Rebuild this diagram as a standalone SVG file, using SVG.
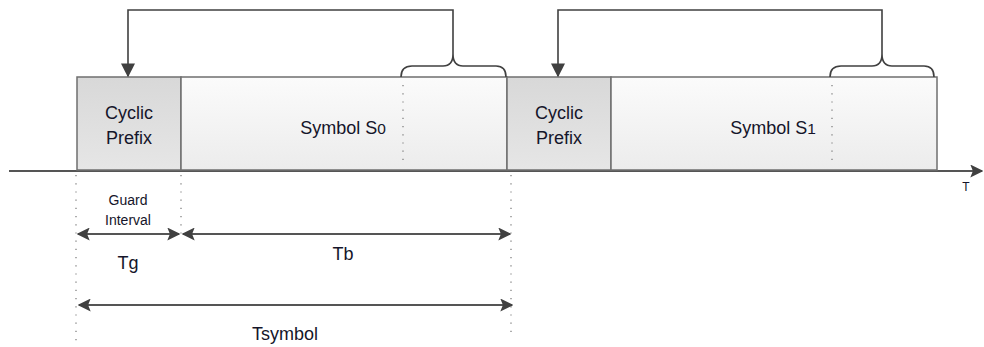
<svg xmlns="http://www.w3.org/2000/svg" width="984" height="347" viewBox="0 0 984 347">
  <defs>
    <linearGradient id="cpFill" x1="0" y1="0" x2="0" y2="1">
      <stop offset="0" stop-color="#d8d8d8"/>
      <stop offset="1" stop-color="#e6e6e6"/>
    </linearGradient>
    <linearGradient id="symFill" x1="0" y1="0" x2="0" y2="1">
      <stop offset="0" stop-color="#fbfbfb"/>
      <stop offset="1" stop-color="#ececec"/>
    </linearGradient>
    <marker id="head" viewBox="0 0 10 10" refX="9" refY="5" markerWidth="13" markerHeight="13" markerUnits="userSpaceOnUse" orient="auto-start-reverse">
      <path d="M0,0 L10,5 L0,10 L2,5 Z" fill="#404040"/>
    </marker>
    <marker id="headDown" viewBox="0 0 10 10" refX="9" refY="5" markerWidth="14" markerHeight="14" markerUnits="userSpaceOnUse" orient="auto">
      <path d="M0,0 L10,5 L0,10 Z" fill="#404040"/>
    </marker>
  </defs>
  <style>
    .box { stroke: #6f6f6f; stroke-width: 1.5; }
    .lbl { font-family: "Liberation Sans", Arial, sans-serif; fill: #15152a; text-anchor: middle; }
    .big { font-size: 18px; }
    .small { font-size: 14px; }
    .dot { stroke: #777; stroke-width: 1.2; stroke-dasharray: 1.2 7; fill: none; }
    .wire { stroke: #404040; stroke-width: 1.6; fill: none; }
    .dim { stroke: #555; stroke-width: 2; fill: none; }
  </style>

  <!-- time axis -->
  <line x1="9" y1="171" x2="982" y2="171" stroke="#555" stroke-width="2" marker-end="url(#head)"/>
  <text class="lbl" x="966" y="191" font-size="12">T</text>

  <!-- blocks -->
  <g id="cp0">
    <rect class="box" x="77" y="77" width="104" height="93" fill="url(#cpFill)"/>
    <text class="lbl big" x="129" y="119">Cyclic</text>
    <text class="lbl big" x="129" y="144">Prefix</text>
  </g>
  <g id="sym0">
    <rect class="box" x="181" y="77" width="326" height="93" fill="url(#symFill)"/>
    <text class="lbl big" x="343" y="134">Symbol S<tspan font-size="15.5">0</tspan></text>
    <line class="dot" x1="403" y1="85" x2="403" y2="166"/>
  </g>
  <g id="cp1">
    <rect class="box" x="507" y="77" width="104" height="93" fill="url(#cpFill)"/>
    <text class="lbl big" x="559" y="119">Cyclic</text>
    <text class="lbl big" x="559" y="144">Prefix</text>
  </g>
  <g id="sym1">
    <rect class="box" x="611" y="77" width="326" height="93" fill="url(#symFill)"/>
    <text class="lbl big" x="773" y="134">Symbol S<tspan font-size="15.5">1</tspan></text>
    <line class="dot" x1="832" y1="85" x2="832" y2="166"/>
  </g>

  <!-- copy loops: tail of each symbol fed back to its prefix -->
  <g id="connectors">
    <path class="wire" d="M401,77 Q401,66 412,66 L443,66 Q453,66 453,54 Q453,66 463,66 L496,66 Q506,66 506,77"/>
    <path class="wire" d="M453,54 L453,10 L128,10 L128,76" marker-end="url(#headDown)"/>
    <path class="wire" d="M830,77 Q830,66 841,66 L872,66 Q882,66 882,54 Q882,66 892,66 L924,66 Q934,66 934,77"/>
    <path class="wire" d="M882,54 L882,10 L558,10 L558,76" marker-end="url(#headDown)"/>

    <!-- dimension guides -->
    <line class="dot" x1="76" y1="175" x2="76" y2="342"/>
    <line class="dot" x1="181" y1="175" x2="181" y2="238"/>
    <line class="dot" x1="511" y1="175" x2="511" y2="332"/>

    <line class="dim" x1="78" y1="234" x2="179" y2="234" marker-start="url(#head)" marker-end="url(#head)"/>
    <line class="dim" x1="183" y1="234" x2="510" y2="234" marker-start="url(#head)" marker-end="url(#head)"/>
    <line class="dim" x1="79" y1="305" x2="512" y2="305" marker-start="url(#head)" marker-end="url(#head)"/>
  </g>

  <!-- interval labels -->
  <text class="lbl small" x="128" y="205">Guard</text>
  <text class="lbl small" x="128" y="225">Interval</text>
  <text class="lbl big" x="128" y="269">Tg</text>
  <text class="lbl big" x="343" y="260">Tb</text>
  <text class="lbl big" x="285" y="340">Tsymbol</text>
</svg>
